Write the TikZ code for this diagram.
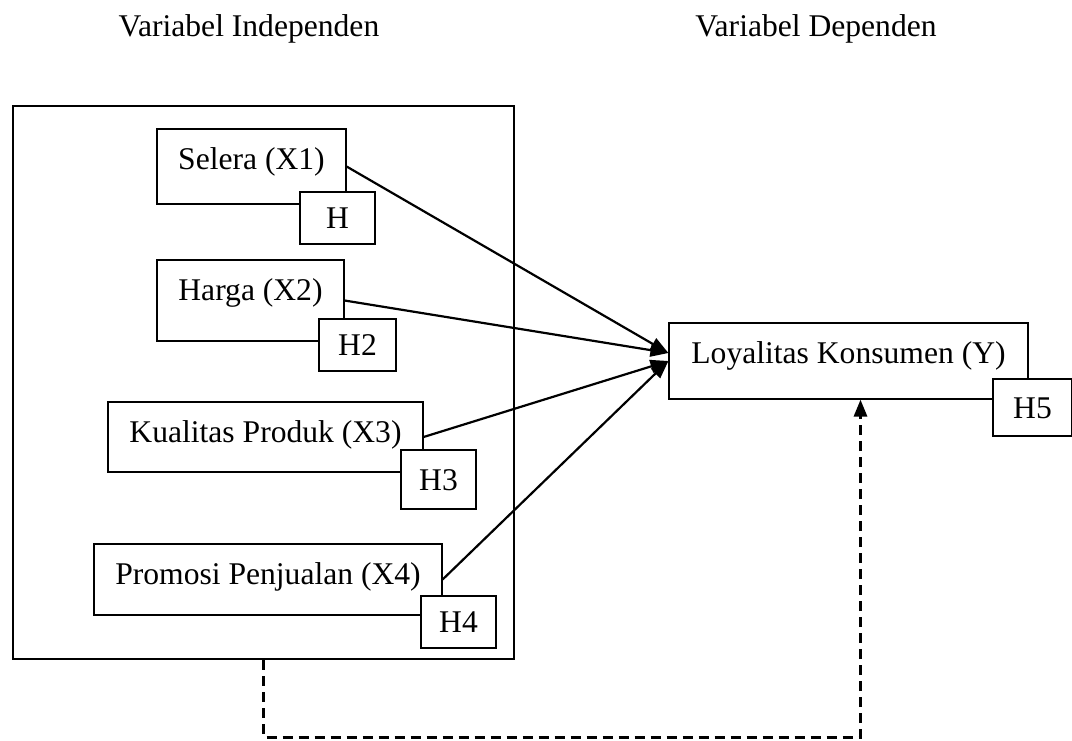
\documentclass[tikz,border=0pt]{standalone}
\usepackage{fontspec}
\setmainfont{Liberation Serif}
\usetikzlibrary{arrows.meta}

\tikzset{
  var/.style={draw, line width=0.6pt, inner sep=0pt, text height=20pt},
  hyp/.style={draw, fill=white, line width=0.6pt, inner sep=0pt, minimum width=37.5pt, minimum height=26pt, text height=10.5pt, text depth=0pt},
  arr/.style={line width=1.1pt, -{Triangle[length=9pt,width=6.5pt]}},
  dashline/.style={line width=1.5pt, dash pattern=on 5pt off 3pt, -{Triangle[length=8.5pt,width=6.5pt]}}
}

\begin{document}
\begin{tikzpicture}[x=0.5pt, y=-0.5pt, font=\fontsize{15.8}{19}\selectfont]
    \useasboundingbox (0,0) rectangle (1072,740);
    %headings
    \node[anchor=base] (ind) at (249,36) {Variabel Independen};
    \node[anchor=base] (dep) at (816,36) {Variabel Dependen};
    %frame
    \node[draw, line width=1.2pt, minimum width=250.5pt, minimum height=276.5pt] (frame) at (263.5,382.5) {};
    %variables
    \node[var, minimum width=94.5pt, text depth=17.5pt] (x1) at (251.5,166.5) {Selera (X1)};
    \node[var, minimum width=93.5pt, text depth=20.5pt] (x2) at (250.5,300.5) {Harga (X2)};
    \node[var, minimum width=157.5pt, text depth=15pt] (x3) at (265.5,437) {Kualitas Produk (X3)};
    \node[var, minimum width=174pt, text depth=15.5pt] (x4) at (268,579.5) {Promosi Penjualan (X4)};
    \node[var, minimum width=179.5pt, text depth=18pt] (y) at (848.5,361) {Loyalitas Konsumen (Y)};
    %hypotheses
    \node[hyp] (h1) at (337.5,218) {H};
    \node[hyp, minimum width=38.5pt] (h2) at (357.5,345) {H2};
    \node[hyp, minimum height=29.5pt] (h3) at (438.5,479.5) {H3};
    \node[hyp] (h4) at (458.5,622) {H4};
    \node[hyp, minimum width=39.5pt, minimum height=28.5pt] (h5) at (1032.5,407.5) {H5};
    %arrows
    \draw[arr] (x1.east) -- ([yshift=4pt]y.west);
    \draw[arr] (x2.east) -- ([yshift=4pt]y.west);
    \draw[arr] (x3.east) -- (y.west);
    \draw[arr] (x4.east) -- (y.west);
    \draw[dashline] (frame.south) -- ++(0,77) -| ([xshift=6pt]y.south);
\end{tikzpicture}
\end{document}
